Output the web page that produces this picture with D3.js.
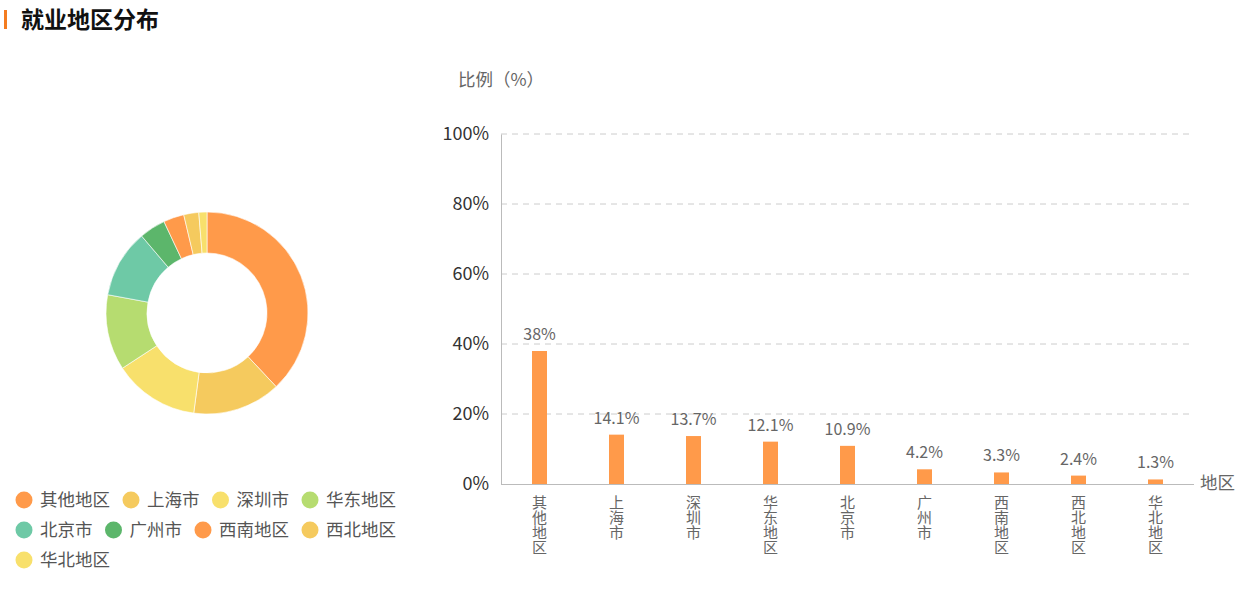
<!DOCTYPE html>
<html><head><meta charset="utf-8">
<script src="https://cdn.jsdelivr.net/npm/d3@7"></script>
<style>
html,body{margin:0;padding:0;background:#fff;}
svg{display:block;font-family:"Microsoft YaHei","Noto Sans CJK SC",sans-serif;}
</style></head>
<body>
<svg id="c" width="1242" height="590"></svg>
<script>
const categories = ["其他地区","上海市","深圳市","华东地区","北京市","广州市","西南地区","西北地区","华北地区"];
const values = [38, 14.1, 13.7, 12.1, 10.9, 4.2, 3.3, 2.4, 1.3];
const valueLabels = ["38%","14.1%","13.7%","12.1%","10.9%","4.2%","3.3%","2.4%","1.3%"];
const yTicks = [0, 20, 40, 60, 80, 100];
const palette = ["#FF9A4A","#F5CA5E","#F8E06C","#B6DC70","#6EC9A6","#5CB66B"];

const svg = d3.select("#c");
const font = '"Microsoft YaHei","Noto Sans CJK SC",sans-serif';

// Title
svg.append("rect").attr("x",4).attr("y",10).attr("width",3).attr("height",19).attr("fill","#F47C20");
svg.append("text").attr("x",21).attr("y",28).attr("font-size",23).attr("font-weight","bold").attr("fill","#111").text("就业地区分布");

// Donut
const color = i => palette[i % palette.length];
const pie = d3.pie().sort(null).value(d => d)(values);
const arc = d3.arc().innerRadius(60).outerRadius(101);
const g = svg.append("g").attr("transform","translate(207,313)");
g.selectAll("path").data(pie).join("path")
  .attr("d", arc).attr("fill",(d,i)=>color(i))
  .attr("stroke","#fff").attr("stroke-width",0.6);

// Legend (flow layout)
const legend = svg.append("g");
let lx = 16, ly = 500;
const maxW = 405;
categories.forEach((c,i)=>{
  const tw = c.length * 17.5;
  const w = 16 + tw;
  if (lx + w > maxW) { lx = 16; ly += 30; }
  legend.append("circle").attr("cx",lx+8).attr("cy",ly).attr("r",8.5).attr("fill",color(i));
  legend.append("text").attr("x",lx+24).attr("y",ly+6).attr("font-size",17.5).attr("fill","#555").text(c);
  lx += w + 21;
});

// Bar chart
const x0 = 501, x1 = 1194, yTop = 134, yBot = 484;
const x = d3.scaleBand().domain(categories).range([x0,x1]);
const y = d3.scaleLinear().domain([0,100]).range([yBot,yTop]);
const bc = svg.append("g");

// gridlines
bc.selectAll("line.grid").data(yTicks.filter(t=>t>0)).join("line")
  .attr("x1",x0).attr("x2",x1).attr("y1",d=>y(d)).attr("y2",d=>y(d))
  .attr("stroke","#ccc").attr("stroke-dasharray","6,5").attr("stroke-width",1);

// y axis
const yAxis = d3.axisLeft(y).tickValues(yTicks).tickFormat(d=>d+"%").tickSize(0).tickPadding(12);
const ya = bc.append("g").attr("transform",`translate(${x0},0)`).call(yAxis);
ya.select(".domain").attr("stroke","#bbb");
ya.selectAll("text").attr("font-size",18).attr("fill","#333").attr("font-family",font);

// x axis line
bc.append("line").attr("x1",x0).attr("x2",x1).attr("y1",yBot+0.5).attr("y2",yBot+0.5).attr("stroke","#bbb");

// bars
bc.selectAll("rect.bar").data(values).join("rect")
  .attr("x",(d,i)=>x(categories[i])+x.bandwidth()/2-7.5)
  .attr("width",15)
  .attr("y",d=>y(d)).attr("height",d=>yBot-y(d))
  .attr("fill","#FF9A4A");

// value labels
bc.selectAll("text.val").data(values).join("text")
  .attr("x",(d,i)=>x(categories[i])+x.bandwidth()/2)
  .attr("y",d=>y(d)-11)
  .attr("text-anchor","middle").attr("font-size",16).attr("fill","#666")
  .text((d,i)=>valueLabels[i]);

// x labels vertical
bc.selectAll("text.xl").data(categories).join("text")
  .attr("x",c=>x(c)+x.bandwidth()/2)
  .attr("y",495)
  .attr("writing-mode","vertical-rl")
  .style("text-orientation","upright")
  .attr("font-size",15).attr("fill","#666")
  .text(c=>c);

// axis names
svg.append("text").attr("x",458).attr("y",86).attr("font-size",17.5).attr("fill","#666").text("比例（%）");
svg.append("text").attr("x",1200).attr("y",489).attr("font-size",17.5).attr("fill","#666").text("地区");
</script>
</body></html>
